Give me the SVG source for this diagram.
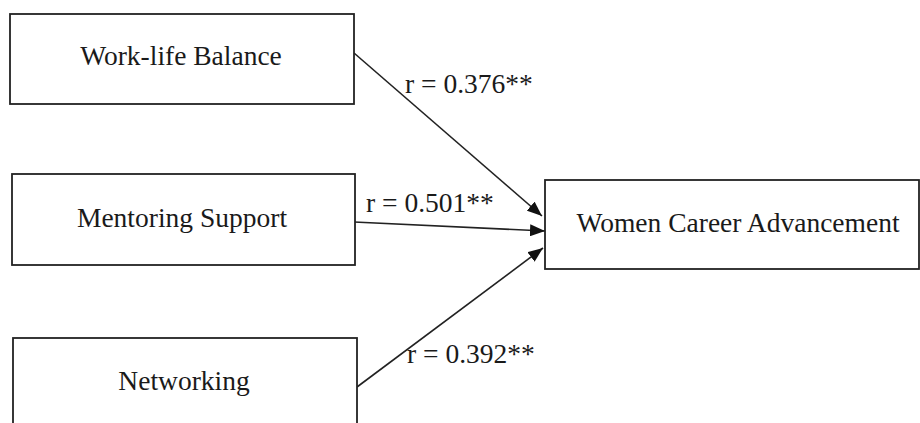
<svg xmlns="http://www.w3.org/2000/svg" width="920" height="423" viewBox="0 0 920 423">
<style>
.box{fill:#fff;stroke:#222;stroke-width:1.8}
.t{font-family:"Liberation Serif","Times New Roman",serif;font-size:27.5px;fill:#1a1a1a}
.c{stroke:#222;stroke-width:1.6;fill:none;marker-end:url(#ah)}
</style>
<defs>
<marker id="ah" markerUnits="userSpaceOnUse" markerWidth="16" markerHeight="12" refX="15" refY="6" orient="auto">
<path d="M0,0 L15,6 L0,12 z" fill="#111"/>
</marker>
</defs>
<rect width="920" height="423" fill="#fff"/>
<g id="connectors">
<line class="c" x1="354" y1="53" x2="542" y2="216"/>
<line class="c" x1="354" y1="222" x2="545" y2="231"/>
<line class="c" x1="357" y1="387" x2="543" y2="248"/>
<text class="t" x="405" y="93">r = 0.376**</text>
<text class="t" x="366" y="212">r = 0.501**</text>
<text class="t" x="407" y="363">r = 0.392**</text>
</g>
<g id="worklife">
<rect class="box" x="10" y="14" width="344" height="90"/>
<text class="t" x="181" y="65" text-anchor="middle">Work-life Balance</text>
</g>
<g id="mentoring">
<rect class="box" x="12" y="174" width="343" height="91"/>
<text class="t" x="182" y="227" text-anchor="middle">Mentoring Support</text>
</g>
<g id="networking">
<rect class="box" x="13" y="338" width="344" height="100"/>
<text class="t" x="184" y="390" text-anchor="middle">Networking</text>
</g>
<g id="career">
<rect class="box" x="545" y="180" width="374" height="89"/>
<text class="t" x="738" y="232" text-anchor="middle">Women Career Advancement</text>
</g>
</svg>
